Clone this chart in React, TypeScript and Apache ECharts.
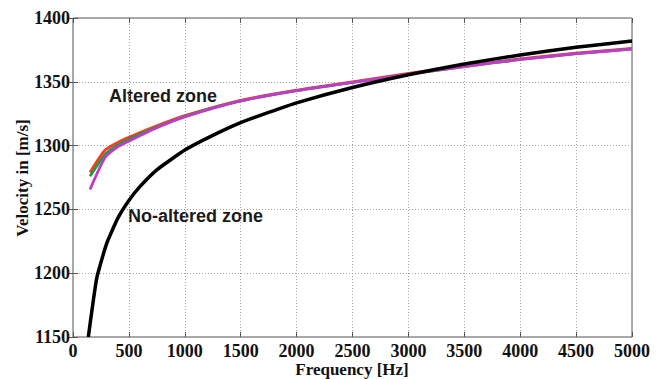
import React, { useEffect, useRef } from "react";
import * as echarts from "echarts";

const xTicks = { min: 0, max: 5000, interval: 500 };
const yTicks = { min: 1150, max: 1400, interval: 50 };

const noAltered: [number, number][] = [
  [137, 1150], [212, 1196], [300, 1223], [400, 1243], [500, 1257], [600, 1268], [750, 1281],
  [1000, 1296.5], [1250, 1308], [1500, 1318], [1750, 1326], [2000, 1333.5], [2500, 1345.5],
  [3000, 1355.5], [3500, 1364], [4000, 1371], [4500, 1377], [5000, 1382],
];
const alteredRed: [number, number][] = [
  [152, 1279], [287, 1296.5], [400, 1302.5], [500, 1306.5], [750, 1315.5], [1000, 1323.5], [1500, 1335.5],
  [2000, 1343.5], [2500, 1350], [3000, 1356.5], [3500, 1362.5], [4000, 1368], [4500, 1372.5], [5000, 1376.2],
];
const alteredGreen: [number, number][] = [
  [152, 1276], [287, 1293], [400, 1300.5], [500, 1305], [750, 1314.5], [1000, 1323], [1500, 1335],
  [2000, 1343], [2500, 1349.5], [3000, 1356], [3500, 1362], [4000, 1367.5], [4500, 1372], [5000, 1375.8],
];
const alteredMagenta: [number, number][] = [
  [152, 1265.6], [287, 1290.7], [400, 1299], [500, 1303.5], [750, 1314], [1000, 1322.5], [1500, 1335],
  [2000, 1343], [2500, 1349.5], [3000, 1356], [3500, 1362], [4000, 1367.5], [4500, 1372], [5000, 1375.6],
];

const serif = "'Liberation Serif', 'Times New Roman', serif";
const sans = "'Liberation Sans', Arial, sans-serif";

export default function App() {
  const ref = useRef<HTMLDivElement>(null);
  useEffect(() => {
    document.body.style.margin = "0";
    const chart = echarts.init(ref.current!, null, { renderer: "svg" });
    const gridLine = { show: true, lineStyle: { color: "#a0a0a0", type: [1, 2] as any, width: 1 } };
    const labelStyle = {
      fontFamily: serif, fontWeight: "bold" as const, fontSize: 18, color: "#111",
      formatter: (v: number) => String(v),
    };
    const tick = { show: true, inside: true, length: 5, lineStyle: { color: "#555" } };
    const lineSeries = (name: string, data: [number, number][], color: string, width: number, smooth: number) => ({
      name,
      type: "line",
      data,
      showSymbol: false,
      symbol: "none",
      smooth,
      lineStyle: { color, width },
      clip: true,
    });
    chart.setOption({
      animation: false,
      backgroundColor: "#fff",
      grid: { left: 73, right: 32, top: 18, bottom: 42, show: true, borderColor: "#555", borderWidth: 1 },
      xAxis: [
        {
          type: "value", ...xTicks,
          axisLine: { show: false },
          axisTick: tick,
          axisLabel: { ...labelStyle, margin: 5 },
          splitLine: gridLine,
        },
        {
          type: "value", position: "top", ...xTicks,
          axisLine: { show: false },
          axisTick: tick,
          axisLabel: { show: false },
          splitLine: { show: false },
        },
      ],
      yAxis: [
        {
          type: "value", ...yTicks,
          axisLine: { show: false },
          axisTick: tick,
          axisLabel: { ...labelStyle, margin: 3 },
          splitLine: gridLine,
        },
        {
          type: "value", position: "right", ...yTicks,
          axisLine: { show: false },
          axisTick: tick,
          axisLabel: { show: false },
          splitLine: { show: false },
        },
      ],
      series: [
        lineSeries("Altered (red)", alteredRed, "#ff3a1a", 2.8, 0.2),
        lineSeries("Altered (green)", alteredGreen, "#1f9a4a", 2.8, 0.2),
        lineSeries("Altered (magenta)", alteredMagenta, "#c03cc8", 2.8, 0.2),
        lineSeries("No-altered zone", noAltered, "#000000", 3.5, 0.15),
      ],
      graphic: [
        {
          type: "text", left: 109, top: 87,
          style: { text: "Altered zone", font: `bold 18px ${sans}`, fill: "#1a1a1a" },
        },
        {
          type: "text", left: 128, top: 207,
          style: { text: "No-altered zone", font: `bold 18px ${sans}`, fill: "#1a1a1a" },
        },
        {
          type: "text", x: 22, y: 178, rotation: Math.PI / 2,
          style: { text: "Velocity in [m/s]", font: `bold 17px ${serif}`, fill: "#111", align: "center", verticalAlign: "middle" },
        },
        {
          type: "text", x: 352, y: 369,
          style: { text: "Frequency [Hz]", font: `bold 17px ${serif}`, fill: "#111", align: "center", verticalAlign: "middle" },
        },
      ],
    });
    return () => chart.dispose();
  }, []);
  return <div ref={ref} style={{ width: 664, height: 379 }} />;
}
